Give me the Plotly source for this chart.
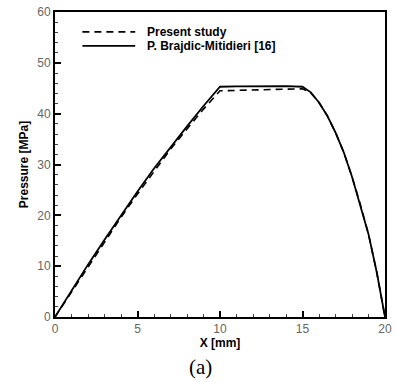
import plotly.graph_objects as go

# Present study (dashed)
x_present = [0, 1, 2, 3, 4, 5, 6, 7, 8, 9, 10, 11, 12, 13, 14, 15,
             15.5, 16, 16.5, 17, 17.5, 18, 18.5, 19, 19.5, 20]
p_present = [0, 4.9, 9.9, 14.8, 19.6, 24.2, 28.7, 33.0, 37.0, 40.9, 44.5,
             44.6, 44.7, 44.8, 44.85, 44.9,
             44.1, 42.2, 39.6, 36.3, 32.4, 27.6, 22.2, 16.3, 8.8, 0]

# P. Brajdic-Mitidieri [16] (solid)
x_ref = [0, 1, 2, 3, 4, 5, 6, 7, 8, 9, 10, 11, 12, 13, 14, 15,
         15.5, 16, 16.5, 17, 17.5, 18, 18.5, 19, 19.5, 20]
p_ref = [0, 5.2, 10.3, 15.2, 20.0, 24.7, 29.2, 33.4, 37.5, 41.5, 45.3,
         45.35, 45.4, 45.4, 45.4, 45.3,
         44.2, 42.2, 39.6, 36.3, 32.4, 27.6, 22.2, 16.3, 8.8, 0]

series_names = ["Present study", "P. Brajdic-Mitidieri [16]"]
x_ticks = [0, 5, 10, 15, 20]
y_ticks = [0, 10, 20, 30, 40, 50, 60]

FONT = "Liberation Sans, Arial"

fig = go.Figure()
fig.add_trace(go.Scatter(x=x_present, y=p_present, mode="lines",
                         name=series_names[0],
                         line=dict(color="black", width=1.6, dash="7px,5px")))
fig.add_trace(go.Scatter(x=x_ref, y=p_ref, mode="lines",
                         name=series_names[1],
                         line=dict(color="black", width=1.8)))

axis_common = dict(
    showgrid=False, zeroline=False, showline=True, linecolor="black",
    linewidth=2, mirror=True, ticks="inside", ticklen=6, tickwidth=2,
    tickcolor="black",
    tickfont=dict(family=FONT, size=12, color="#666666"),
)

fig.update_xaxes(range=[0, 20], tickvals=x_ticks,
                 minor=dict(dtick=1, ticks="inside", ticklen=3, tickcolor="#444444", tickwidth=1),
                 title=dict(text="<b>X [mm]</b>", standoff=0,
                            font=dict(family=FONT, size=12, color="black")),
                 **axis_common)
fig.update_yaxes(range=[0, 60], tickvals=y_ticks,
                 minor=dict(dtick=2, ticks="inside", ticklen=3, tickcolor="#444444", tickwidth=1),
                 title=dict(text="<b>Pressure [MPa]</b>", standoff=6,
                            font=dict(family=FONT, size=12, color="black")),
                 **axis_common)

# Manual legend (line samples + labels) placed inside the plot area
legend_rows = [(0.935, "7px,5px", 1.6), (0.889, "solid", 1.8)]
for (yy, dash, w), name in zip(legend_rows, series_names):
    fig.add_shape(type="line", xref="paper", yref="paper",
                  x0=0.083, x1=0.243, y0=yy, y1=yy,
                  line=dict(color="black", width=w, dash=dash))
    fig.add_annotation(text="<b>%s</b>" % name, xref="paper", yref="paper",
                       x=0.272, y=yy, xanchor="left", yanchor="middle",
                       showarrow=False,
                       font=dict(family=FONT, size=12, color="black"))

fig.add_annotation(text="(a)", xref="paper", yref="paper", x=0.44, y=-0.163,
                   showarrow=False, xanchor="center", yanchor="middle",
                   font=dict(family="Liberation Serif, Times New Roman", size=21, color="black"))

fig.update_layout(
    width=397, height=382,
    margin=dict(l=55, r=5, t=10, b=65),
    paper_bgcolor="white", plot_bgcolor="white",
    showlegend=False,
)

fig.write_html("out.html", config={"displayModeBar": False},
               post_script="document.body.style.margin='0';document.body.style.overflow='hidden';")
